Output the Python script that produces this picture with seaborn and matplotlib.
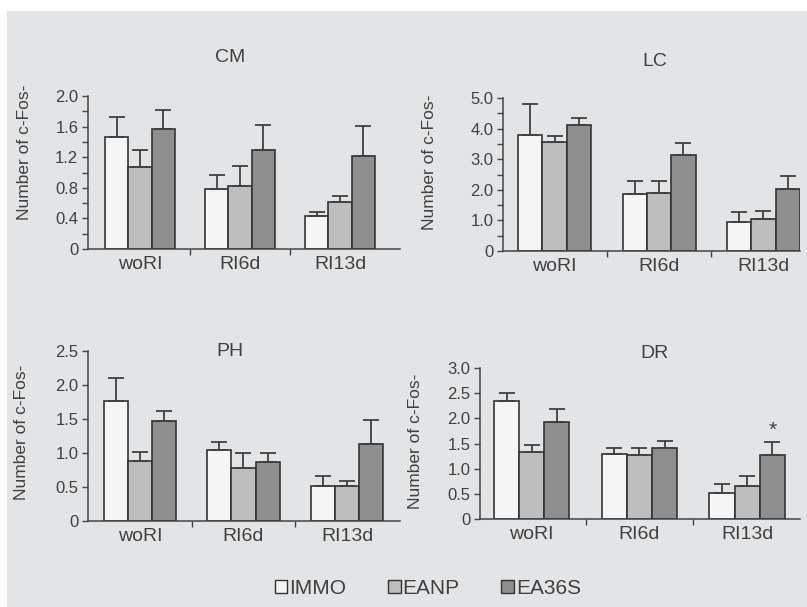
import matplotlib.pyplot as plt
import matplotlib.patches as mpatches
import matplotlib.ticker as mticker
import pandas as pd
import seaborn as sns

sns.set_theme(style="ticks")
plt.rcParams["font.family"] = ["Liberation Sans", "DejaVu Sans"]

groups = ["woRI", "RI6d", "RI13d"]
treatments = ["IMMO", "EANP", "EA36S"]
colors = ["#f5f5f5", "#bebebe", "#8e8e8e"]

# rows: IMMO, EANP, EA36S / cols: woRI, RI6d, RI13d
cm_mean = [[1.47, 0.79, 0.43], [1.07, 0.83, 0.61], [1.57, 1.30, 1.22]]
cm_err = [[0.25, 0.18, 0.05], [0.22, 0.25, 0.08], [0.25, 0.32, 0.39]]

lc_mean = [[3.78, 1.87, 0.95], [3.56, 1.90, 1.03], [4.11, 3.13, 2.02]]
lc_err = [[1.03, 0.41, 0.32], [0.20, 0.38, 0.28], [0.23, 0.40, 0.43]]

ph_mean = [[1.76, 1.05, 0.51], [0.88, 0.78, 0.51], [1.47, 0.87, 1.13]]
ph_err = [[0.34, 0.11, 0.15], [0.13, 0.22, 0.08], [0.15, 0.13, 0.36]]

dr_mean = [[2.35, 1.29, 0.52], [1.34, 1.28, 0.66], [1.92, 1.41, 1.28]]
dr_err = [[0.15, 0.13, 0.18], [0.14, 0.14, 0.20], [0.27, 0.13, 0.24]]

W, H = 807, 607
TXT = "#404040"
EDGE = "#333333"

fig = plt.figure(figsize=(W / 100, H / 100), dpi=100)
fig.patch.set_facecolor("white")
# grey card behind everything
fig.patches.append(mpatches.Rectangle((7 / W, 0), 1, 1 - 11 / H, transform=fig.transFigure,
                                      facecolor="#e3e4e6", edgecolor="none", zorder=-10))


def fmt_tick(v, pos):
    return "0" if abs(v) < 1e-9 else f"{v:.1f}"


def panel(name, means, errs, ymax, step, minor, box, xlim, title_xy, ylab_xy, star=False):
    # box = (left, right, bottom, top) in pixels from top-left
    l, r, b, t = box
    ax = fig.add_axes([l / W, (H - b) / H, (r - l) / W, (b - t) / H])
    ax.set_facecolor("none")

    rows = []
    for ti, tr in enumerate(treatments):
        for gi, g in enumerate(groups):
            rows.append({"group": g, "treatment": tr, "value": means[ti][gi]})
    df = pd.DataFrame(rows)

    sns.barplot(data=df, x="group", y="value", hue="treatment", order=groups,
                hue_order=treatments, palette=colors, width=0.7, gap=0,
                edgecolor=EDGE, linewidth=1.2, errorbar=None, legend=False,
                saturation=1, ax=ax)

    # upper error bars only
    bar_sets = list(ax.containers)
    for ti, cont in enumerate(bar_sets):
        xs = [p.get_x() + p.get_width() / 2 for p in cont.patches]
        ax.errorbar(xs, means[ti], yerr=[[0] * 3, errs[ti]], fmt="none",
                    ecolor="#404040", elinewidth=1.3, capsize=6, capthick=1.3, zorder=1)
        if star and ti == 2:
            ax.text(xs[2], means[ti][2] + errs[ti][2] + 0.06, "*", ha="center",
                    va="bottom", fontsize=15, color=TXT)

    ax.set_xlim(*xlim)
    ax.set_ylim(0, ymax)
    n = int(round(ymax / step))
    ax.set_yticks([i * step for i in range(n + 1)])
    ax.yaxis.set_major_formatter(mticker.FuncFormatter(fmt_tick))
    if minor:
        ax.yaxis.set_minor_locator(mticker.MultipleLocator(step / 2))
    ax.set_xticks([0, 1, 2])
    ax.set_xticks([0.5, 1.5], minor=True)
    ax.set_xlabel("")
    ax.set_ylabel("")

    sns.despine(ax=ax)
    for s in ["left", "bottom"]:
        ax.spines[s].set_color("#444444")
        ax.spines[s].set_linewidth(1.1)
    ax.tick_params(axis="y", which="both", direction="out", length=4, width=1,
                   color="#444444", labelsize=12, labelcolor=TXT, pad=3)
    ax.tick_params(axis="x", which="major", length=0, labelsize=14, labelcolor=TXT, pad=5)
    ax.tick_params(axis="x", which="minor", direction="out", length=4, width=1, color="#444444")

    fig.text(title_xy[0] / W, 1 - title_xy[1] / H, name, ha="center", va="center",
             fontsize=14, color=TXT)
    fig.text(ylab_xy[0] / W, 1 - ylab_xy[1] / H, "Number of c-Fos-", rotation=90,
             ha="center", va="center", fontsize=12.5, color=TXT)
    return ax


panel("CM", cm_mean, cm_err, 2.0, 0.4, True, (88, 400, 249, 96), (-0.52, 2.6),
      (230, 58), (25, 152))
panel("LC", lc_mean, lc_err, 5.0, 1.0, True, (503, 800, 251, 98), (-0.495, 2.35),
      (655, 62), (429, 162))
panel("PH", ph_mean, ph_err, 2.5, 0.5, False, (88, 400, 521, 351), (-0.5, 2.51),
      (230, 351), (22, 432))
panel("DR", dr_mean, dr_err, 3.0, 0.5, False, (480, 800, 519, 368), (-0.48, 2.49),
      (655, 353), (415, 441), star=True)

handles = [mpatches.Patch(facecolor=c, edgecolor=EDGE, linewidth=1.0) for c in colors]
leg = fig.legend(handles, treatments, loc="center", bbox_to_anchor=(428 / W, 1 - 588 / H),
                 ncol=3, frameon=False, fontsize=15, handlelength=0.6, handleheight=0.6,
                 handletextpad=0.1, columnspacing=2.0)
for t in leg.get_texts():
    t.set_color(TXT)

fig.savefig("out.png", dpi=100)
